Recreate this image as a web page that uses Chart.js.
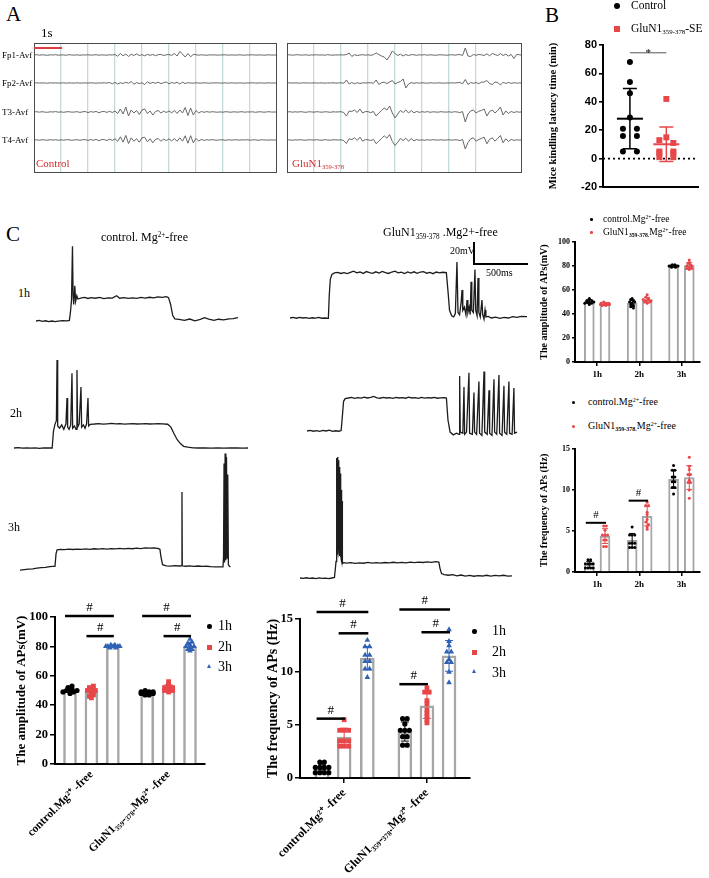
<!DOCTYPE html>
<html><head><meta charset="utf-8">
<script src="https://cdn.jsdelivr.net/npm/chart.js@4.4.1/dist/chart.umd.min.js"></script>
<style>
html,body{margin:0;padding:0;background:#fff}
body{position:relative;width:709px;height:878px;overflow:hidden;font-family:"Liberation Serif","Times New Roman",serif;color:#000}
.t{position:absolute;white-space:nowrap;line-height:1;z-index:5}
.mk{position:absolute;z-index:5}
canvas{position:absolute}
.box{position:absolute;border:1.5px solid #4a4a4a;box-sizing:border-box;z-index:4}
.sub{font-size:0.6em;vertical-align:-0.35em}
.sup{font-size:0.6em;vertical-align:0.55em}
</style></head><body>

<!-- Panel A -->
<div class="t" style="left:6px;top:4px;font-size:21px">A</div>
<div class="t" style="left:41px;top:26px;font-size:13px">1s</div>
<div class="mk" style="left:34px;top:47px;width:28px;height:2px;background:#e23b3b"></div>
<div class="t" style="left:2px;top:51px;font-size:9px">Fp1-Avf</div>
<div class="t" style="left:2px;top:79px;font-size:9px">Fp2-Avf</div>
<div class="t" style="left:2px;top:108px;font-size:9px">T3-Avf</div>
<div class="t" style="left:2px;top:136px;font-size:9px">T4-Avf</div>
<div class="t" style="left:36px;top:158px;font-size:11px;color:#d42a2a">Control</div>
<div class="t" style="left:292px;top:158px;font-size:11px;color:#d42a2a">GluN1<span class="sub">359-378</span></div>
<div class="box" style="left:34px;top:43px;width:243px;height:130px"></div>
<div class="box" style="left:287px;top:43px;width:235px;height:130px"></div>

<!-- Panel B -->
<div class="t" style="left:545px;top:5px;font-size:21px">B</div>
<div class="mk" style="left:614px;top:3px;width:6px;height:6px;border-radius:50%;background:#000"></div>
<div class="t" style="left:631px;top:0px;font-size:11.5px">Control</div>
<div class="mk" style="left:614px;top:26px;width:6px;height:6px;background:#e8474a"></div>
<div class="t" style="left:631px;top:23px;font-size:11.5px">GluN1<span class="sub">359-378</span>-SE</div>

<!-- Panel C -->
<div class="t" style="left:6px;top:224px;font-size:21px">C</div>
<div class="t" style="left:101px;top:231px;font-size:12px">control. Mg<span class="sup">2+</span>-free</div>
<div class="t" style="left:383px;top:226px;font-size:12px">GluN1<span class="sub">359-378</span> .Mg2+-free</div>
<div class="t" style="left:450px;top:246px;font-size:10px">20mV</div>
<div class="t" style="left:486px;top:268px;font-size:10px">500ms</div>
<div class="mk" style="left:473px;top:242px;width:2px;height:23px;background:#000"></div>
<div class="mk" style="left:473px;top:263px;width:55px;height:2px;background:#000"></div>
<div class="t" style="left:18px;top:287px;font-size:12px">1h</div>
<div class="t" style="left:10px;top:407px;font-size:12px">2h</div>
<div class="t" style="left:8px;top:521px;font-size:12px">3h</div>

<div class="mk" style="left:590px;top:218px;width:2.5px;height:2.5px;border-radius:50%;background:#000"></div>
<div class="t" style="left:603px;top:215px;font-size:9.5px">control.Mg<span class="sup">2+</span>-free</div>
<div class="mk" style="left:590px;top:231px;width:2.5px;height:2.5px;border-radius:50%;background:#e8474a"></div>
<div class="t" style="left:603px;top:228px;font-size:9.5px">GluN1<span class="sub"><b>359-378.</b></span>Mg<span class="sup">2+</span>-free</div>

<div class="mk" style="left:572px;top:401px;width:3px;height:3px;border-radius:50%;background:#000"></div>
<div class="t" style="left:588px;top:397px;font-size:10px">control.Mg<span class="sup">2+</span>-free</div>
<div class="mk" style="left:572px;top:425px;width:3px;height:3px;border-radius:50%;background:#e8474a"></div>
<div class="t" style="left:588px;top:421px;font-size:10px">GluN1<span class="sub"><b>359-378.</b></span>Mg<span class="sup">2+</span>-free</div>

<div class="mk" style="left:207px;top:624px;width:4.5px;height:4.5px;border-radius:50%;background:#000"></div>
<div class="t" style="left:218px;top:619px;font-size:14px">1h</div>
<div class="mk" style="left:207px;top:645px;width:4.5px;height:4.5px;background:#e8474a"></div>
<div class="t" style="left:218px;top:640px;font-size:14px">2h</div>
<div class="mk" style="left:207px;top:664px;width:0;height:0;border-left:2.5px solid transparent;border-right:2.5px solid transparent;border-bottom:4.5px solid #2f62b5"></div>
<div class="t" style="left:218px;top:660px;font-size:14px">3h</div>

<div class="mk" style="left:472px;top:629px;width:4.5px;height:4.5px;border-radius:50%;background:#000"></div>
<div class="t" style="left:492px;top:624px;font-size:14px">1h</div>
<div class="mk" style="left:472px;top:650px;width:4.5px;height:4.5px;background:#e8474a"></div>
<div class="t" style="left:492px;top:645px;font-size:14px">2h</div>
<div class="mk" style="left:472px;top:669px;width:0;height:0;border-left:2.5px solid transparent;border-right:2.5px solid transparent;border-bottom:4.5px solid #2f62b5"></div>
<div class="t" style="left:492px;top:666px;font-size:14px">3h</div>

<script>
// ================= DATA =================
// Panel A: EEG traces, one value per 0.1 s (relative amplitude, up = positive)
const eegChannels = ['Fp1-Avf','Fp2-Avf','T3-Avf','T4-Avf'];
const ctrlFp1 = [0,0.3,-0.2,0.2,0,-0.3,0.2,0,0.3,-0.2, 0.1,0,-0.2,0.3,0,-0.1,0.2,-0.3,0.1,0, 0.2,-0.1,0,0.3,-0.2,0.1,0,-0.2,0.2,0,
 0.5,-1.2,1.5,-0.8,1,-1.5,0.8,-0.5,1.2,-0.6, 0.4,-0.8,0.6,-0.3,0.5,-0.7,0.3,0.6,-0.5,0.2, 0.5,-0.4,1.5,-1,3.5,1,-2,1.5,-1.8,0.6,
 0.3,-0.2,0.2,0,-0.3,0.2,0,0.1,-0.2,0.1, 0,0.2,-0.2,0.1,0,-0.1,0.2,0,-0.2,0.1, 0,0.2,-0.1,0,0.1,-0.2,0,0.2,-0.1,0,0];
const ctrlFp2 = [0,0.2,-0.1,0.1,0,-0.2,0.2,0,0.1,-0.1, 0,0.2,-0.2,0.1,0,-0.1,0.2,-0.1,0,0.1, -0.1,0.2,0,-0.2,0.1,0,0.2,-0.1,0.5,-0.8,
 0.6,-1,0.3,-0.5,0.8,-0.4,1.5,-1.2,0.4,-0.6, 0.3,-1.5,1.2,-0.5,0.6,-0.3,0.8,-0.6,0.3,1, -0.8,0.5,-0.3,0.7,-1,0.8,-0.5,0.3,0,-0.2,
 0.2,0,-0.1,0.2,0,-0.2,0.1,0,0.2,-0.1, 0,0.1,-0.2,0.2,0,-0.1,0.1,0,-0.2,0.1, 0,0.2,-0.1,0,0.1,-0.1,0,0.2,-0.1,0,0];
const ctrlT3 = [0,0.3,-0.2,0.3,-0.1,-0.3,0.2,0,0.4,-0.2, 0.1,-0.3,0.2,0.3,-0.2,0,0.3,-0.4,0.2,0.5, -0.6,0.4,-0.2,0.6,-0.8,0.3,0.5,-0.4,0.7,-0.5,
 1,-1.5,3,-2,5,-4,2,-1,1.5,-2.5, 2,3,-1.5,1,-3,0.5,1.5,-1,0.8,-0.5, 1,-0.8,1.5,-1.5,2,-1,4.5,-3.5,4,-3,
 1.5,-1,0.5,-0.3,0.4,-0.2,0.3,0,-0.2,0.1, -0.2,0.3,0,-0.2,0.2,-0.1,0,0.3,-0.2,0.1, 0,0.2,-0.3,0.1,0.2,-0.2,0,0.3,-0.1,0,0];
const ctrlT4 = [0,0.2,-0.3,0.3,0,-0.2,0.3,-0.1,0.3,-0.3, 0.2,-0.2,0.3,0.2,-0.3,0.1,0.3,-0.3,0.3,0.4, -0.5,0.5,-0.3,0.6,-0.7,0.4,0.4,-0.5,0.8,-0.4,
 1.2,-1.3,3.2,-2.2,4.6,-3.5,2.2,-1.2,1.3,-2.2, 2.2,2.8,-1.8,1.2,-2.8,0.6,1.4,-1.2,0.9,-0.6, 1.1,-0.9,1.4,-1.3,2.2,-1.2,4.2,-3.2,4.3,-2.8,
 1.6,-1.1,0.6,-0.4,0.3,-0.2,0.4,-0.1,-0.2,0.2, 0.1,-0.3,0.2,-0.1,0.1,0.3,-0.2,0.2,0,0.3, -0.2,0.1,0.2,-0.3,0.1,0.2,-0.1,0,0.1,0,0];
const gluFp1 = [0,0.2,-0.2,0.1,0.3,-0.1,0,0.2,-0.3,0.1, 0,0.2,-0.1,0.1,-0.2,0.3,0,-0.2,0.1,0,
 0.2,0,0.5,2,-1.5,0.3,-0.5,0,0.3,-0.2, 0.2,-0.3,0.3,2,0.5,-1,-2,-5,-1,4, 1.5,-0.5,0.8,-1,0.5,-0.6,0.4,0.2,-0.3,0.2,
 0,0.3,-0.2,0.2,0,-0.3,0.1,0.2,0,-0.2, 0,0.3,-0.2,0.2,0.5,-0.5,7,-1,-1.5,0.5, -0.3,0.5,0.2,-0.5,1.2,-0.8,1.5,0.5,-0.6,1.4,
 -0.5,0.8,-1,0.6,-3.5,0.5,0.3,-0.2,0.2,0,0];
const gluFp2 = [0,0.2,-0.1,0.1,0,-0.2,0.2,0,0.1,-0.1, 0.2,-0.1,0,0.1,-0.2,0.1,0,0.2,-0.1,0,
 0.2,-0.2,3,-1,0.5,-0.8,0.3,-0.5,0.2,0, 0.2,0.3,-0.3,3,-1.5,0.3,0.8,-0.6,1,2.5, -1,0.5,1.5,4,-5,-1,0.5,-0.4,0.3,-0.2,
 0.2,0,-0.2,0.2,0,-0.1,0.2,0,-0.2,0.1, 0,0.2,-0.1,0.3,0.5,-0.8,3.5,-1.5,0.5,-0.3, 0.4,-0.6,0.8,1,2.5,-0.5,-1.5,1,0.5,-2,
 0.8,-0.5,0.6,-0.4,0.3,-0.2,0.1,0,0.2,-0.1,0];
const gluT3 = [0,0.3,-0.2,0.2,-0.1,0.3,0,-0.3,0.2,0.1, -0.2,0.3,0,-0.2,0.2,0.1,-0.3,0.2,0,0.1,
 0.3,-0.5,-4,1,0.5,2,-0.5,3,-1,0.5, 0.3,-0.6,0.5,-4,-1,1.5,4,2,6,-1, -6,-2,1.5,-0.5,2,-1,1.5,-0.8,0.6,-0.4,
 0.3,-0.2,0.4,-0.3,0.2,0,-0.2,0.3,0,-0.1, 0.2,-0.3,0.3,0,-0.5,0.4,-10,-2,1,2, -1,0.8,1.5,3,-4,0.5,2,-1,1.5,5,
 -3,1,-1.5,0.5,-0.5,0.3,-0.2,0.2,0,-0.1,0];
const gluT4 = [0,0.2,-0.3,0.2,0,0.3,-0.1,-0.2,0.2,0.1, -0.1,0.3,-0.1,-0.2,0.3,0,-0.2,0.2,0.1,0,
 0.2,-0.6,-3.5,1.2,0.4,2.2,-0.4,2.8,-1.2,0.4, 0.2,-0.5,0.6,-3.6,-1.2,1.6,4.2,1.8,5.5,-1.5, -5.5,-2.2,1.6,-0.6,1.8,-1.2,1.4,-0.9,0.5,-0.3,
 0.2,-0.3,0.3,-0.2,0.3,0,-0.1,0.2,-0.1,0, 0.3,-0.2,0.2,0.1,-0.6,0.5,-9,-2.5,1.2,2.2, -1.2,0.6,1.6,2.8,-3.8,0.7,2.2,-1.2,1.6,4.5,
 -2.8,1.2,-1.4,0.6,-0.4,0.2,-0.1,0.3,0,-0.2,0];

// Panel C: whole-cell traces, [time ms, membrane potential mV]
const trCtrl1h = [[0,-65],[30,-64.5],[60,-65.3],[90,-64.8],[120,-65.5],[150,-65],[180,-65.6],[210,-65.2],[250,-64.6],[290,-64.8],[315,-64.5],
 [325,-57],[335,-46],[344,3],[350,-42],[356,-50],[366,-33],[374,-47],[385,-42],[395,-45],
 [430,-44],[460,-43.5],[490,-44.5],[520,-43.8],[560,-44.3],[600,-43.5],[640,-44.6],[680,-43.9],[720,-44.2],[760,-42],[790,-44.3],[830,-43.7],[870,-44.5],[910,-43.9],[950,-44.4],[990,-43.6],[1030,-44.2],[1070,-43.4],[1110,-44],[1150,-43],[1190,-43.6],[1230,-42.8],[1250,-43.8],
 [1270,-50],[1290,-60],[1310,-63],[1350,-63.5],[1400,-64.5],[1450,-63.2],[1500,-64.8],[1550,-63.5],[1590,-62],[1630,-63.2],[1680,-64.5],[1720,-63.4],[1770,-64],[1820,-63],[1860,-62.8],[1905,-62]];
const trCtrl2h = [[0,-65],[40,-64.7],[80,-65.2],[120,-64.8],[160,-65.1],[200,-64.9],[240,-65.3],[280,-64.8],[320,-65],[360,-65],
 [372,-50],[385,-44],[400,-40],[406,15],[412,-45],[430,-47],[450,-44],[470,-48],[490,-43],[500,-19.5],[506,-46],[520,-48],[535,-44],[547,3],[553,-47],[570,-45],[585,-48],[594,6],[600,-46],[615,-43],[632,-9.5],[638,-46],[655,-44],[670,-47],[685,-43],[698,-19.5],[704,-45],[720,-43.5],
 [760,-43.2],[800,-42.8],[840,-43.3],[880,-43],[920,-42.7],[960,-43.1],[1000,-42.9],[1040,-43.3],[1080,-43],[1120,-42.8],[1160,-43.2],[1200,-43],[1240,-42.9],[1280,-43.2],[1320,-43],[1360,-42.8],[1400,-43.1],[1450,-43.4],
 [1480,-46],[1510,-52],[1540,-57.5],[1570,-61],[1600,-63.5],[1640,-64.3],[1690,-64.8],[1740,-65],[1800,-64.8],[1860,-65.1],[1920,-64.9],[1980,-65.2],[2040,-64.8],[2100,-65],[2160,-65.2],[2208,-65]];
const trCtrl3h = [[0,-67],[40,-66.5],[80,-66],[120,-65.8],[160,-65.2],[200,-64.6],[240,-64.5],[280,-63.8],[310,-63.5],[330,-63.5],
 [340,-52],[350,-48.5],[380,-48],[420,-48.3],[460,-47.8],[500,-48.2],[540,-47.9],[580,-48.1],[620,-47.6],[660,-48],[700,-47.5],[740,-47.9],[780,-47.4],[820,-47.8],[860,-47.3],[900,-47.7],[940,-47.2],[980,-47.6],[1020,-47.1],[1060,-47.5],[1100,-47],[1140,-47.3],[1180,-46.8],[1220,-47],[1260,-46.8],[1300,-47.2],[1320,-48],
 [1330,-55],[1345,-62],[1380,-63],[1420,-63.3],[1460,-62.8],[1500,-63.2],[1525,-63],[1528,4],[1531,-63],[1560,-63.4],[1600,-63],[1640,-63.5],[1680,-63.2],[1720,-63.6],[1760,-63.4],[1800,-63.8],[1840,-63.9],[1880,-64],[1915,-64],
 [1920,-55],[1925,30],[1930,-60],[1935,39],[1942,-58],[1948,36],[1955,-56],[1960,20],[1966,-62],[1972,-63],[1985,-64]];
const trGlu1h = [[0,-65],[30,-64.5],[60,-65.2],[90,-64.4],[120,-65],[150,-64.6],[180,-65.3],[210,-64.8],[240,-65.1],[270,-64.5],[300,-65.2],[330,-65],[362,-65.3],
 [370,-45],[380,-30],[395,-25.5],[420,-24],[450,-23.5],[480,-24.5],[510,-23.8],[540,-24.6],[570,-23.5],[600,-22.5],[630,-24],[660,-23.2],[690,-24.5],[720,-22.8],[750,-23.8],[780,-24.4],[810,-23],[840,-24.2],[870,-22.6],[900,-23.8],[930,-24.5],[960,-23.2],[990,-22.4],[1020,-24],[1050,-23.3],[1080,-24.6],[1110,-23.1],[1140,-24.2],[1170,-23],[1200,-24.4],[1230,-23.2],[1260,-22.8],[1290,-24.3],[1320,-23.5],[1350,-24.7],[1380,-23.2],[1410,-24],[1440,-23.4],[1475,-23.8],
 [1490,-40],[1505,-58],[1525,-63],[1545,-64],[1560,-61],[1575,-14],[1585,-60],[1600,-62],[1615,-50],[1623,-39.5],[1630,-58],[1645,-55],[1660,-62],[1670,-48.6],[1678,-60],[1690,-55],[1700,-62],[1708,-32],[1715,-58],[1730,-60],[1745,-21],[1752,-58],[1765,-63],[1774,-28.6],[1782,-60],[1795,-64],[1811,-48.6],[1818,-62],[1830,-66],[1840,-57.7],[1848,-64],
 [1870,-63.5],[1900,-65],[1940,-64.2],[1980,-65.3],[2020,-64.5],[2060,-65],[2100,-63.8],[2140,-64.5],[2180,-63.5],[2236,-63.8]];
const trGlu2h = [[0,-65],[30,-64.4],[60,-65.2],[90,-64.6],[120,-65.3],[150,-64.5],[180,-65],[210,-64.3],[240,-65.4],[270,-64.8],[300,-65.2],[322,-64.6],
 [335,-50],[345,-38],[360,-35.5],[390,-35],[420,-34.4],[450,-35.3],[480,-34.6],[510,-35.1],[540,-34.2],[570,-35],[600,-34.5],[630,-33.5],[660,-34.8],[690,-35.2],[720,-34.4],[750,-35],[780,-34.6],[810,-35.3],[840,-34.5],[870,-35],[900,-34.7],[930,-35.2],[960,-34.3],[990,-35],[1020,-34.6],[1050,-35.3],[1080,-34.4],[1110,-35.1],[1140,-34.7],[1170,-35],[1200,-34.5],[1230,-35.2],[1260,-34.8],[1300,-34.6],[1315,-35],
 [1330,-55],[1350,-66],[1380,-68.5],[1410,-67],[1434,-68],[1440,-15],[1446,-66],[1470,-67],[1481,-25],[1487,-68],[1505,-66],[1528,-12],[1534,-67],[1560,-68],[1575,-30],[1581,-66],[1600,-68],[1622,-20],[1628,-67],[1650,-69],[1670,-11],[1676,-66],[1700,-68],[1717,-28],[1723,-67],[1745,-69],[1764,-18],[1770,-66],[1790,-68],[1811,-14],[1817,-67],[1840,-69],[1858,-24],[1864,-66],[1885,-68],[1905,-20],[1911,-67],[1935,-68],[1952,-26],[1958,-67],[1981,-66]];
const trGlu3h = [[0,-65],[30,-65.3],[60,-64.8],[90,-65.4],[120,-65],[150,-65.5],[180,-64.9],[210,-65.3],[240,-65.1],[270,-65.6],[300,-65],[325,-64.5],
 [335,-55],[340,-50],[343,40],[346,-45],[349,44],[352,-40],[355,45],[358,-42],[361,42],[364,-40],[367,38],[370,-42],[373,36],[376,-45],[379,30],[382,-46],[385,25],[388,-48],[391,15],[394,-50],[397,5],[400,-52],[410,-51],
 [440,-51.5],[480,-51],[520,-51.7],[560,-51.2],[600,-51.6],[640,-50.8],[680,-51.4],[720,-51],[760,-51.5],[800,-50.9],[840,-51.3],[880,-50.7],[920,-51.2],[960,-50.8],[1000,-51.3],[1040,-50.6],[1080,-51],[1120,-50.5],[1160,-50.9],[1200,-50.4],[1240,-50.8],[1280,-50.2],[1310,-50.5],
 [1320,-56],[1335,-61],[1360,-62],[1400,-62.5],[1440,-62],[1480,-63],[1520,-62.3],[1560,-63.2],[1600,-62.6],[1640,-63.4],[1680,-62.8],[1720,-63.2],[1760,-62.5],[1800,-63.3],[1840,-62.7],[1880,-63],[1920,-62.5],[1960,-63.3],[2000,-63]];

// Panel B: kindling latency (min)
const bGroups = ['Control','GluN1359-378-SE'];
const bControl = [68,54,46,29,21,21,16,16,5,5];
const bGluN1 = [42,15,13,11,5,5,4,4,1,1];
const bSig = [[0,1,74.5,'*']];

// Panel C statistics (n = 10 cells)
const hourLabels = ['1h','2h','3h'];
const groupLabels = ['control.Mg\u00B2\u207A -free','GluN1\u2083\u2085\u2089\u208B\u2083\u2087\u2088.Mg\u00B2\u207A -free'];
const ampCtrl1h = [49,50,51,52,53,50,49,51,48,50];
const ampCtrl2h = [46,48,50,52,53,49,47,51,50,45];
const ampCtrl3h = [80,80,81,79,80,80,79,81,80,80];
const ampGlu1h = [48,49,47,50,48,49,47,48,49,48];
const ampGlu2h = [50,52,54,56,51,49,53,50,52,51];
const ampGlu3h = [78,80,82,85,79,77,81,83,80,78];
const freqCtrl1h = [1.5,1.5,1,1,1,1,0.5,0.5,0.5,0.5];
const freqCtrl2h = [5.5,4.5,4.5,4.5,3.5,3.5,3.5,3,3,3];
const freqCtrl3h = [13,12.4,12.4,11.6,11.6,11,11,10.3,10.3,9.5];
const freqGlu1h = [5.6,5.6,5.1,4.5,4.5,4.5,3.9,3.9,3.1,3.1];
const freqGlu2h = [8.5,8.1,8.1,7.3,7,6.4,6.1,5.8,5.5,5.2];
const freqGlu3h = [14,12.9,12.5,11.9,11.9,11.2,10.9,10.9,10,9];
// significance bars: [from bar, to bar, level]
const ampSig = [[0,2,100.6],[1,2,87],[3,5,100.6],[4,5,87]];
const freqSig = [[0,2,15.65],[1,2,13.65],[0,1,5.6],[3,5,15.9],[4,5,13.75],[3,4,8.85]];
const freqSmallSig = [[0,1,6.0],[2,3,8.7]];

// ================= DRAWING =================
const SERIF = '"Liberation Serif","Times New Roman",serif';
const SANS = '"Liberation Sans",Arial,sans-serif';
const K='#000', R='#e8474a', BL='#2f62b5';
Chart.defaults.font.family = SERIF;
Chart.defaults.color = '#000';
Chart.defaults.animation = false;
Chart.defaults.responsive = false;
Chart.defaults.devicePixelRatio = 1;
Chart.defaults.events = [];
Chart.defaults.plugins.legend.display = false;
Chart.defaults.plugins.tooltip.enabled = false;

const mean = a => a.reduce((s,v)=>s+v,0)/a.length;
const sd = a => { const m=mean(a); return Math.sqrt(a.reduce((s,v)=>s+(v-m)*(v-m),0)/(a.length-1)); };
// deterministic beeswarm layout: points of similar value are spread sideways
function swarm(vals, bin, dx, maxW){
  const g={}, out=[];
  vals.forEach((v,i)=>{const k=Math.round(v/bin);(g[k]=g[k]||[]).push(i);});
  Object.values(g).forEach(ix=>{
    const step = ix.length>1 ? Math.min(dx, maxW/(ix.length-1)) : 0;
    ix.forEach((i,j)=>{out[i]=(j-(ix.length-1)/2)*step;});
  });
  return out;
}
function canvasAt(l,t,w,h){
  const c=document.createElement('canvas');
  c.width=w;c.height=h;
  c.style.left=l+'px';c.style.top=t+'px';c.style.width=w+'px';c.style.height=h+'px';
  document.body.appendChild(c);return c;
}

const decor = {
  id:'decor',
  beforeDatasetsDraw(ch,a,o){
    if(!o.hline) return;
    const {ctx,chartArea:ca}=ch; const y=ch.scales.y.getPixelForValue(o.hline.y);
    ctx.save();ctx.strokeStyle='#000';ctx.lineWidth=1.6;ctx.setLineDash(o.hline.dash);
    ctx.beginPath();ctx.moveTo(ca.left,y);ctx.lineTo(ca.right,y);ctx.stroke();ctx.restore();
  },
  afterDatasetsDraw(ch,a,o){
    const ctx=ch.ctx, xs=ch.scales.x, ys=ch.scales.y;
    ctx.save();
    (o.err||[]).forEach(e=>{
      const m=mean(e.vals), s=sd(e.vals), x=xs.getPixelForValue(e.x);
      const y1=ys.getPixelForValue(m-s), y2=ys.getPixelForValue(m+s);
      ctx.strokeStyle=e.color;ctx.lineWidth=e.lw;ctx.beginPath();
      ctx.moveTo(x,y1);ctx.lineTo(x,y2);
      ctx.moveTo(x-e.cap,y1);ctx.lineTo(x+e.cap,y1);
      ctx.moveTo(x-e.cap,y2);ctx.lineTo(x+e.cap,y2);ctx.stroke();
      if(e.meanW){const ym=ys.getPixelForValue(m);ctx.lineWidth=e.meanLw;ctx.beginPath();ctx.moveTo(x-e.meanW,ym);ctx.lineTo(x+e.meanW,ym);ctx.stroke();}
    });
    (o.sig||[]).forEach(g=>{
      const x1=xs.getPixelForValue(g.x1)+(g.d1||0), x2=xs.getPixelForValue(g.x2)+(g.d2||0), y=ys.getPixelForValue(g.y);
      ctx.strokeStyle=o.sigColor||'#000';ctx.lineWidth=o.sigLw;ctx.beginPath();ctx.moveTo(x1,y);ctx.lineTo(x2,y);ctx.stroke();
      ctx.fillStyle='#000';ctx.font=o.sigFont;ctx.textAlign='center';ctx.textBaseline='alphabetic';
      ctx.fillText(g.text,(x1+x2)/2,y-o.sigGap);
    });
    ctx.restore();
  }
};

// ---- EEG ----
function eeg(l,t,w,h,xmax,series){
  const offs=[12,40,69,97];
  const scales={x:{type:'linear',min:0,max:xmax,bounds:'data',afterFit(s){s.height=0;},ticks:{display:false,stepSize:1},
    grid:{color:'#c4dada',lineWidth:1.3,drawTicks:false},border:{display:false}}};
  offs.forEach((o,i)=>{scales['y'+i]={display:false,min:o-h,max:o};});
  new Chart(canvasAt(l,t,w,h),{type:'line',
    data:{datasets:series.map((d,i)=>({label:eegChannels[i],data:d.map((v,j)=>({x:j/10,y:v})),yAxisID:'y'+i,borderColor:'#666',borderWidth:1,pointRadius:0,tension:0}))},
    options:{layout:{padding:0},scales}});
}
eeg(34,43,243,130,9,[ctrlFp1,ctrlFp2,ctrlT3,ctrlT4]);
eeg(287,43,235,130,8.7,[gluFp1,gluFp2,gluT3,gluT4]);

// ---- patch-clamp traces ----
function trace(l,t,w,h,baseY,pts){
  const mvPx=1.1, msPx=0.106;
  const ymax=-65+(baseY-t)/mvPx, ymin=-65-(t+h-baseY)/mvPx;
  new Chart(canvasAt(l,t,w,h),{type:'line',
    data:{datasets:[{data:pts.map(p=>({x:p[0],y:p[1]})),borderColor:'#1c1c1c',borderWidth:1.3,pointRadius:0,tension:0}]},
    options:{layout:{padding:0},scales:{x:{type:'linear',display:false,min:0,max:w/msPx},y:{display:false,min:ymin,max:ymax}}}});
}
trace(36,238,205,92,321,trCtrl1h);
trace(14,352,236,104,448,trCtrl2h);
trace(20,448,214,126,568,trCtrl3h);
trace(290,252,240,74,318,trGlu1h);
trace(307,362,212,78,431,trGlu2h);
trace(300,450,214,135,578,trGlu3h);

// ---- Panel B ----
(function(){
  const cv=canvasAt(540,35,169,170);
  const unit=(169-63-11)/3;
  const pos=[0.85,2.0];
  const sets=[bControl,bGluN1], cols=[K,R];
  const ds=sets.map((vals,i)=>{const off=swarm(vals,3,14/unit,40/unit);
    return {label:bGroups[i],data:vals.map((v,j)=>({x:pos[i]+off[j],y:v})),pointStyle:i?'rect':'circle',pointRadius:i?4.2:3,
      pointBackgroundColor:cols[i],pointBorderWidth:0};});
  new Chart(cv,{type:'scatter',data:{datasets:ds},
    options:{layout:{padding:{top:10,right:11,left:0,bottom:0}},
      scales:{
        x:{type:'linear',min:0,max:3,bounds:'data',afterFit(s){s.height=18;},ticks:{display:false},grid:{display:false},border:{display:true,color:'#000',width:2}},
        y:{min:-20,max:80,bounds:'data',afterFit(s){s.width=63;},ticks:{stepSize:20,font:{family:SANS,size:11,weight:'bold'},padding:2},
          title:{display:true,text:'Mice kindling latency time (min)',font:{size:10.5,weight:'bold'},padding:{top:7,bottom:0}},
          grid:{drawOnChartArea:false,drawTicks:true,tickLength:4,color:'#000',lineWidth:1.6},border:{display:true,color:'#000',width:2}}},
      plugins:{decor:{hline:{y:0,dash:[2,3]},
        err:sets.map((vals,i)=>({x:pos[i],vals,color:cols[i],cap:7,lw:1.5,meanW:13,meanLw:2})),
        sig:bSig.map(s=>({x1:pos[s[0]],x2:pos[s[1]],y:s[2],text:s[3]})),sigColor:'#555',sigLw:1,sigFont:'11px '+SERIF,sigGap:-3}}},
    plugins:[decor]});
})();

// ---- bar charts ----
function barChart(o){
  const cv=canvasAt(o.l,o.t,o.w,o.h);
  const unit=(o.w-o.axisW-o.padR)/o.xmax;
  const means=o.sets.map(mean);
  const ds=[{type:'bar',data:o.pos.map((p,i)=>({x:p,y:means[i]})),backgroundColor:'#fff',borderColor:'#a6a6a6',borderWidth:o.bw,barThickness:o.barW,order:3}];
  o.sets.forEach((vals,i)=>{
    const off=swarm(vals,o.bin,o.dx/unit,o.maxW/unit);
    ds.push({type:'scatter',data:vals.map((v,j)=>({x:o.pos[i]+off[j],y:v})),pointStyle:o.styles[i],pointRadius:o.radii[i],
      pointBackgroundColor:o.colors[i],pointBorderWidth:0,order:1});
  });
  const err=o.sets.map((vals,i)=>({x:o.pos[i],vals,color:o.colors[i],cap:o.cap,lw:1}));
  const sig=o.sig.map(s=>({x1:o.pos[s[0]],x2:o.pos[s[1]],d1:-(o.barW/2-1.5),d2:1,y:s[2],text:'#'}));
  new Chart(cv,{type:'bar',data:{datasets:ds},
    options:{layout:{padding:{top:o.padT,right:o.padR,left:0,bottom:0}},
      scales:{
        x:{type:'linear',min:0,max:o.xmax,bounds:'data',offset:false,afterFit(s){s.height=o.axisH;},
          afterBuildTicks(s){s.ticks=o.ticks.map(v=>({value:v}));},
          ticks:{autoSkip:false,minRotation:o.rot,maxRotation:o.rot,font:o.xFont,padding:o.xPad,callback:(v,i)=>o.labels[i]},
          grid:{display:o.xTick>0,offset:false,drawOnChartArea:false,drawTicks:true,tickLength:o.xTick||1,color:'#000',lineWidth:1.5},
          border:{display:true,color:'#000',width:2}},
        y:{min:0,max:o.ymax,bounds:'data',afterFit(s){s.width=o.axisW;},ticks:{stepSize:o.ystep,font:o.yFont,padding:2},
          title:{display:true,text:o.yTitle,font:o.tFont,padding:{top:o.tPad,bottom:0}},
          grid:{drawOnChartArea:false,drawTicks:true,tickLength:o.yTick,color:'#000',lineWidth:1.5},
          border:{display:true,color:'#000',width:2}}},
      plugins:{decor:{err,sig,sigLw:o.sigLw,sigFont:o.sigFont,sigGap:5}}},
    plugins:[decor]});
}
const big = {styles:['circle','rect','triangle','circle','rect','triangle'],radii:[2.6,3.4,3.3,2.6,3.4,3.3],colors:[K,R,BL,K,R,BL]};
barChart(Object.assign({},big,{l:0,t:590,w:260,h:288,axisW:55,padR:55,padT:27,axisH:114,xmax:7,
  pos:[0.7,1.7,2.7,4.3,5.3,6.3],ticks:[1.7,5.3],labels:groupLabels,rot:45,xFont:{size:11.5,weight:'bold'},xPad:3,xTick:0,
  ymax:100,ystep:20,yFont:{size:12.5,weight:'bold'},yTick:5,yTitle:'The amplitude of APs(mV)',tFont:{size:13,weight:'bold'},tPad:14,
  sets:[ampCtrl1h,ampCtrl2h,ampCtrl3h,ampGlu1h,ampGlu2h,ampGlu3h],bin:1.5,dx:4,maxW:14,barW:13,bw:2.5,cap:4,sig:ampSig,sigLw:2.5,sigFont:'13px '+SERIF}));
barChart(Object.assign({},big,{l:262,t:590,w:270,h:288,axisW:38,padR:62,padT:29,axisH:100,xmax:7.7,
  pos:[1,2,3.05,4.75,5.75,6.75],ticks:[2,5.75],labels:groupLabels,rot:45,xFont:{size:12,weight:'bold'},xPad:3,xTick:5,
  ymax:15,ystep:5,yFont:{size:12.5,weight:'bold'},yTick:5,yTitle:'The frequency of APs (Hz)',tFont:{size:14,weight:'bold'},tPad:3,
  sets:[freqCtrl1h,freqCtrl2h,freqCtrl3h,freqGlu1h,freqGlu2h,freqGlu3h],bin:0.3,dx:4.5,maxW:16,barW:14,bw:2.5,cap:4,sig:freqSig,sigLw:2.5,sigFont:'13px '+SERIF}));
const small = {styles:Array(6).fill('circle'),radii:Array(6).fill(1.5),colors:[K,R,K,R,K,R],
  pos:[1,2.1,4,5.05,6.9,8.0],ticks:[1.55,4.5,7.45],labels:hourLabels,rot:0,xFont:{size:9,weight:'bold'},xPad:3,xTick:4,
  yFont:{size:8,weight:'bold'},yTick:3,tFont:{size:10,weight:'bold'},tPad:3,axisW:40,padR:9,axisH:28,xmax:8.75,
  bin:2,dx:2.6,maxW:9,barW:10,bw:2,cap:3,sigLw:2,sigFont:'11px '+SERIF};
barChart(Object.assign({},small,{l:535,t:230,w:174,h:160,padT:12,ymax:100,ystep:20,yTitle:'The amplitude of APs(mV)',
  sets:[ampCtrl1h,ampGlu1h,ampCtrl2h,ampGlu2h,ampCtrl3h,ampGlu3h],sig:[]}));
barChart(Object.assign({},small,{l:535,t:440,w:174,h:160,padT:9,ymax:15,ystep:5,yTitle:'The frequency of APs (Hz)',bin:0.35,
  sets:[freqCtrl1h,freqGlu1h,freqCtrl2h,freqGlu2h,freqCtrl3h,freqGlu3h],sig:freqSmallSig}));
</script>
</body></html>
